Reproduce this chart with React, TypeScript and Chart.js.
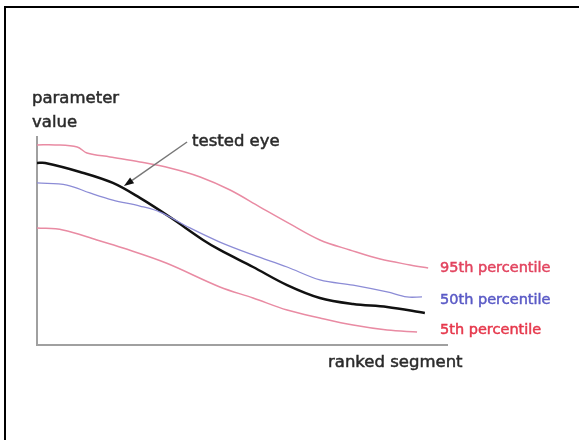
import React, { useEffect, useRef } from "react";
import { Chart, registerables } from "chart.js";

Chart.register(...registerables);

// Values: x = ranked segment (0-100), y = parameter value (0-100)
const p95X = [0, 4.4, 9.8, 12.2, 17.8, 25.1, 32.4, 39.8, 47.1, 54.4, 61.7, 69.0, 76.3, 83.7, 91.0, 95.4];
const p95Y = [96.2, 96.2, 95.2, 92.3, 90.4, 88.0, 85.1, 80.8, 74.5, 66.3, 58.2, 50.5, 45.7, 41.3, 38.5, 37.0];

const p50X = [0, 7.3, 12.9, 18.5, 25.1, 30.0, 37.3, 44.6, 52.7, 61.0, 69.0, 77.1, 85.4, 90.2, 93.9];
const p50Y = [77.9, 76.9, 73.1, 69.7, 66.8, 63.9, 56.3, 49.5, 43.3, 37.5, 31.3, 28.8, 25.5, 23.1, 23.1];

const p5X = [0, 6.3, 14.6, 21.0, 31.5, 44.6, 52.7, 61.0, 69.0, 77.1, 85.4, 92.7];
const p5Y = [56.3, 55.3, 50.5, 46.6, 39.4, 27.9, 22.6, 16.8, 13.0, 9.6, 7.2, 6.25];

const eyeX = [0, 2.0, 10.5, 18.5, 25.1, 32.4, 40.5, 44.6, 52.7, 61.0, 69.0, 77.1, 85.4, 94.6];
const eyeY = [87.5, 87.5, 83.2, 77.9, 70.7, 61.5, 50.5, 45.7, 37.5, 28.8, 22.6, 19.7, 18.3, 15.4];

const seriesLabels = ["95th percentile", "50th percentile", "5th percentile"];
const seriesLabelX = 98.3;
const seriesLabelY = [37.0, 21.6, 7.2];
const seriesLabelColors = ["#E2445F", "#5A5AC6", "#E6384C"];

const arrowLabel = "tested eye";
const arrowTail = { x: 36.6, y: 97.6 };
const arrowTip = { x: 21.2, y: 76.4 };

const yTitle = ["parameter", "value"];
const xTitle = "ranked segment";

const toPts = (xs: number[], ys: number[]) => xs.map((x, i) => ({ x, y: ys[i] }));

function heavyText(ctx: CanvasRenderingContext2D, t: string, x: number, y: number, color: string) {
  ctx.fillStyle = color;
  ctx.strokeStyle = color;
  ctx.lineWidth = 0.5;
  ctx.fillText(t, x, y);
  ctx.strokeText(t, x, y);
}

export default function App() {
  const ref = useRef<HTMLCanvasElement | null>(null);

  useEffect(() => {
    if (!ref.current) return;
    const annotations = {
      id: "annotations",
      afterDraw(chart: any) {
        const { ctx, chartArea, scales } = chart;
        const xs = scales.x;
        const ys = scales.y;
        ctx.save();
        // frame
        ctx.fillStyle = "#000";
        ctx.fillRect(4, 6, 2, 434);
        ctx.fillRect(4, 6, 575, 2);

        // axis titles
        ctx.font = "16.5px 'DejaVu Sans'";
        ctx.textBaseline = "alphabetic";
        ctx.textAlign = "left";
        heavyText(ctx, yTitle[0], chartArea.left - 5, chartArea.top - 34, "#2b2b2b");
        heavyText(ctx, yTitle[1], chartArea.left - 5, chartArea.top - 10, "#2b2b2b");
        heavyText(ctx, xTitle, 328, chartArea.bottom + 22, "#2b2b2b");

        // series labels
        ctx.font = "14.5px 'DejaVu Sans'";
        ctx.textBaseline = "middle";
        seriesLabels.forEach((t, i) => {
          heavyText(ctx, t, xs.getPixelForValue(seriesLabelX), ys.getPixelForValue(seriesLabelY[i]), seriesLabelColors[i]);
        });

        // arrow
        const tx = xs.getPixelForValue(arrowTail.x);
        const ty = ys.getPixelForValue(arrowTail.y);
        const hx = xs.getPixelForValue(arrowTip.x);
        const hy = ys.getPixelForValue(arrowTip.y);
        const ang = Math.atan2(hy - ty, hx - tx);
        const hl = 10;
        const bx = hx - hl * Math.cos(ang);
        const by = hy - hl * Math.sin(ang);
        ctx.strokeStyle = "#777";
        ctx.lineWidth = 1.5;
        ctx.beginPath();
        ctx.moveTo(tx, ty);
        ctx.lineTo(bx, by);
        ctx.stroke();
        ctx.fillStyle = "#111";
        ctx.beginPath();
        ctx.moveTo(hx, hy);
        ctx.lineTo(bx + 3.5 * Math.sin(ang), by - 3.5 * Math.cos(ang));
        ctx.lineTo(bx - 3.5 * Math.sin(ang), by + 3.5 * Math.cos(ang));
        ctx.closePath();
        ctx.fill();

        ctx.font = "16.5px 'DejaVu Sans'";
        ctx.textBaseline = "alphabetic";
        heavyText(ctx, arrowLabel, tx + 5, ty + 4, "#2b2b2b");
        ctx.restore();
      },
    };

    const chart = new Chart(ref.current, {
      type: "line",
      data: {
        datasets: [
          { label: "95th", data: toPts(p95X, p95Y), borderColor: "#E98BA3", borderWidth: 1.5 },
          { label: "50th", data: toPts(p50X, p50Y), borderColor: "#8C8CD6", borderWidth: 1.3 },
          { label: "5th", data: toPts(p5X, p5Y), borderColor: "#E98BA3", borderWidth: 1.5 },
          { label: "tested eye", data: toPts(eyeX, eyeY), borderColor: "#111", borderWidth: 2.5 },
        ],
      },
      options: {
        responsive: false,
        animation: false,
        elements: { point: { radius: 0 }, line: { tension: 0.35 } },
        layout: { padding: { left: 37, top: 137, right: 132, bottom: 95 } },
        plugins: { legend: { display: false }, tooltip: { enabled: false } },
        scales: {
          x: {
            type: "linear",
            min: 0,
            max: 100,
            ticks: { display: false },
            grid: { display: false, drawTicks: false },
            border: { display: true, color: "#A0A0A0", width: 2 },
          },
          y: {
            type: "linear",
            min: 0,
            max: 100,
            ticks: { display: false },
            grid: { display: false, drawTicks: false },
            border: { display: true, color: "#A0A0A0", width: 2 },
          },
        },
      },
      plugins: [annotations],
    });
    return () => chart.destroy();
  }, []);

  return (
    <div style={{ position: "fixed", left: 0, top: 0, width: 579, height: 440, background: "#fff" }}>
      <canvas ref={ref} width={579} height={440} style={{ display: "block" }} />
    </div>
  );
}
